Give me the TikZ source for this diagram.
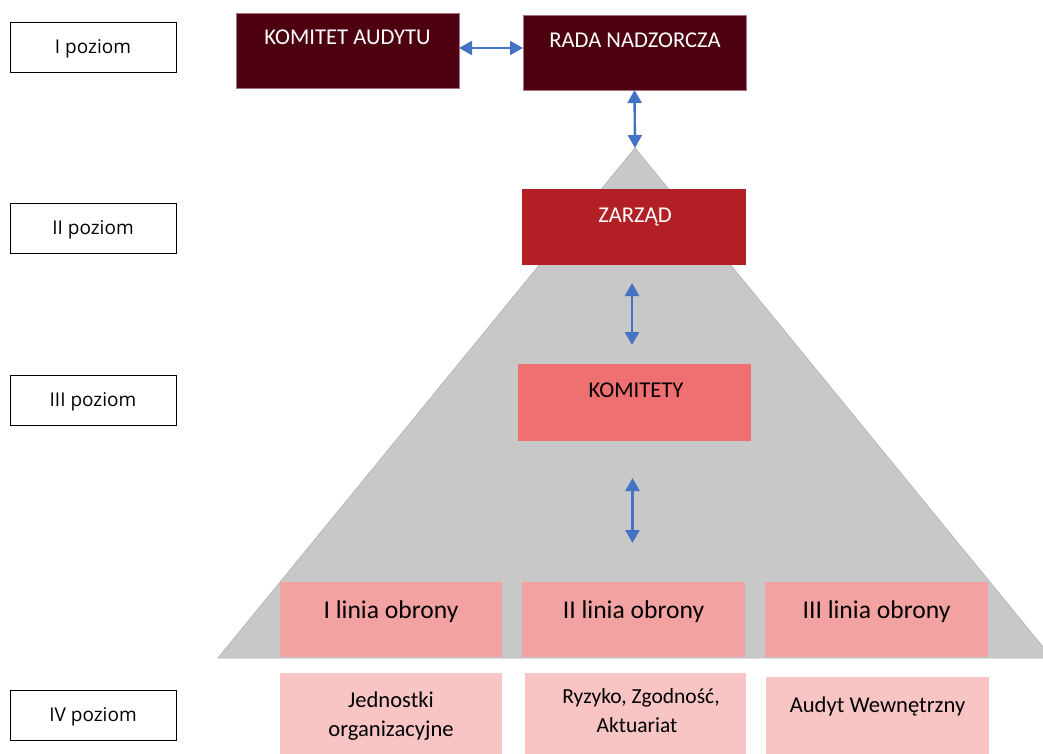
\documentclass[tikz,border=0pt]{standalone}
\usepackage{fontspec}
\setmainfont{Carlito}
\newfontfamily\lblfont{Open Sans}
\usetikzlibrary{arrows.meta}
\definecolor{topred}{HTML}{4C0010}
\definecolor{topedge}{HTML}{A8707C}
\definecolor{zred}{HTML}{B22026}
\definecolor{kred}{HTML}{EE7070}
\definecolor{lred}{HTML}{F3A2A2}
\definecolor{pred}{HTML}{F8C4C4}
\definecolor{tri}{HTML}{C8C8C8}
\definecolor{triedge}{HTML}{B8B8B8}
\definecolor{arrowblue}{HTML}{4472C4}
\begin{document}
\begin{tikzpicture}[x=1pt,y=-1pt,
  box/.style={rectangle, anchor=north west, inner sep=0pt, outer sep=0pt},
  lvl/.style={box, draw=black, line width=0.8pt, minimum width=166pt, minimum height=50pt,
    text height=14pt, text depth=1pt, font=\lblfont\fontsize{19}{23}\selectfont},
  topbox/.style={box, fill=topred, draw=topedge, line width=0.6pt, minimum width=223pt, minimum height=75pt},
  txt/.style={anchor=base, inner sep=0pt, font=\fontsize{22.6}{27}\selectfont},
  wtxt/.style={txt, text=white},
  bigtxt/.style={txt, font=\fontsize{25.6}{30}\selectfont},
  smalltxt/.style={txt, font=\fontsize{21.5}{26}\selectfont},
  conn/.style={draw=arrowblue, line width=2.4pt,
    {Triangle[length=13pt,width=14pt]}-{Triangle[length=13pt,width=14pt]}},
]
\useasboundingbox (0,0) rectangle (1043,754);
\fill[white] (0,0) rectangle (1043,754);

% pyramid
\coordinate (apex) at (635,148);
\begin{scope}
  \clip (0,0) rectangle (1043,754);
  \filldraw[fill=tri, draw=triedge, line width=0.8pt] (apex) -- (1052,658) -- (218,658) -- cycle;
\end{scope}

% level labels
\node[lvl] (p1) at (10,22) {I poziom};
\node[lvl] (p2) at (10,203) {II poziom};
\node[lvl] (p3) at (10,375) {III poziom};
\node[lvl] (p4) at (10,690) {IV poziom};

% top boxes
\node[topbox] (ka) at (236,13) {};
\node[wtxt] (kat) at (347.5,45) {KOMITET AUDYTU};
\node[topbox] (rn) at (523,15) {};
\node[wtxt] (rnt) at (635,47.5) {RADA NADZORCZA};

% management
\node[box, fill=zred, minimum width=224pt, minimum height=76pt] (z) at (522,189) {};
\node[wtxt] (zt) at (635,222) {ZARZĄD};
\node[box, fill=kred, minimum width=233pt, minimum height=77pt] (k) at (518,364) {};
\node[txt] (kt) at (636,397) {KOMITETY};

% lines of defence
\node[box, fill=lred, minimum width=222pt, minimum height=75pt] (l1) at (280,582) {};
\node[bigtxt] (l1t) at (391,618) {I linia obrony};
\node[box, fill=lred, minimum width=223pt, minimum height=75pt] (l2) at (522,582) {};
\node[bigtxt] (l2t) at (633.5,618) {II linia obrony};
\node[box, fill=lred, minimum width=223pt, minimum height=75pt] (l3) at (765,582) {};
\node[bigtxt] (l3t) at (876.5,618) {III linia obrony};

% units
\node[box, fill=pred, minimum width=222pt, minimum height=81pt] (u1) at (280,673) {};
\node[txt] (u1a) at (391,707) {Jednostki};
\node[txt] (u1b) at (391,736) {organizacyjne};
\node[box, fill=pred, minimum width=221pt, minimum height=81pt] (u2) at (525,673) {};
\node[smalltxt] (u2a) at (641,703) {Ryzyko, Zgodność,};
\node[smalltxt] (u2b) at (637,732) {Aktuariat};
\node[box, fill=pred, minimum width=223pt, minimum height=77pt] (u3) at (766,677) {};
\node[txt] (u3a) at (877.5,712) {Audyt Wewnętrzny};

% connectors
\draw[conn] ([yshift=2.5pt]ka.east) -- ([yshift=2.5pt]ka.east -| rn.west);
\draw[conn] (rn.south) -- (apex);
\draw[conn, shorten <=18pt, shorten >=19pt] ([xshift=-2pt]z.south) -- ([xshift=-2pt]z.south |- k.north);
\draw[conn, shorten <=37pt, shorten >=39pt] ([xshift=-2pt]k.south) -- ([xshift=-2pt]k.south |- l2.north);
\end{tikzpicture}
\end{document}
